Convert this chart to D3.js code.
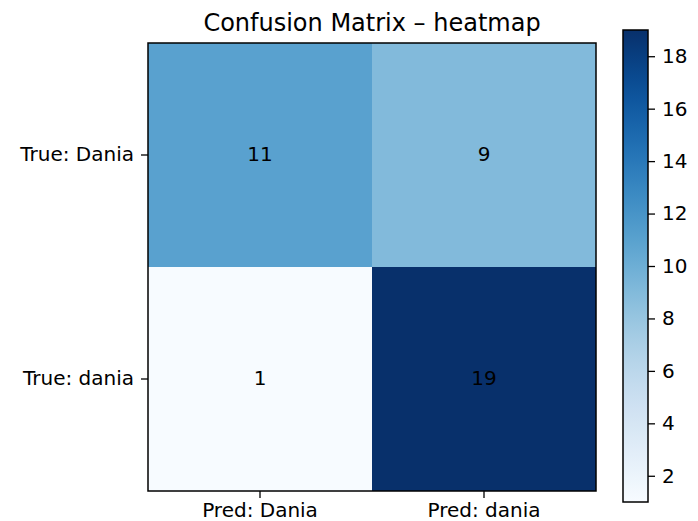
<!DOCTYPE html>
<html>
<head>
	<meta charset="utf-8">
	<title>Confusion Matrix - heatmap</title>
	<script src="https://cdn.jsdelivr.net/npm/d3@7"></script>
	<style type="text/css">
		body {
			margin: 0;
			padding: 0;
			background: #fff;
		}
		text {
			font-family: "DejaVu Sans", sans-serif;
			fill: #000;
		}
	</style>
</head>
<body>

<div id="chart"></div>

<script>

// data
var rowLabels = ["True: Dania", "True: dania"];
var colLabels = ["Pred: Dania", "Pred: dania"];
var counts = [
	[11, 9],
	[1, 19]
];
var colorbarTicks = [2, 4, 6, 8, 10, 12, 14, 16, 18];

var ww = 698,
	wh = 521;

var plot = {left: 148, top: 43, size: 448};
var cbar = {left: 623, top: 30, width: 25, bottom: 502};
var fs = "20px",
	tick = 7,
	pad = 7;

var flat = counts.reduce(function(a, b) { return a.concat(b); }, []);
var vmin = d3.min(flat),
	vmax = d3.max(flat);

var color = d3.scaleSequential(d3.interpolateBlues).domain([vmin, vmax]);

var x = d3.scaleBand().domain(colLabels).range([plot.left, plot.left + plot.size]);
var y = d3.scaleBand().domain(rowLabels).range([plot.top, plot.top + plot.size]);

var svg = d3.select("#chart").append("svg")
	.attr("width", ww)
	.attr("height", wh);

// cells
var cells = [];
counts.forEach(function(row, i) {
	row.forEach(function(v, j) {
		cells.push({row: rowLabels[i], col: colLabels[j], value: v});
	});
});

svg.selectAll("rect.cell")
	.data(cells)
	.enter().append("rect")
	.attr("class", "cell")
	.attr("x", function(d) { return x(d.col); })
	.attr("y", function(d) { return y(d.row); })
	.attr("width", x.bandwidth())
	.attr("height", y.bandwidth())
	.attr("fill", function(d) { return color(d.value); });

svg.selectAll("text.val")
	.data(cells)
	.enter().append("text")
	.attr("class", "val")
	.attr("x", function(d) { return x(d.col) + x.bandwidth() / 2; })
	.attr("y", function(d) { return y(d.row) + y.bandwidth() / 2; })
	.attr("dy", "0.3em")
	.attr("text-anchor", "middle")
	.style("font-size", fs)
	.text(function(d) { return d.value; });

// axes
var xAxis = svg.append("g")
	.attr("transform", "translate(0," + (plot.top + plot.size) + ")")
	.call(d3.axisBottom(x).tickSize(tick).tickPadding(5));
var yAxis = svg.append("g")
	.attr("transform", "translate(" + plot.left + ",0)")
	.call(d3.axisLeft(y).tickSize(tick).tickPadding(pad));

[xAxis, yAxis].forEach(function(g) {
	g.select(".domain").remove();
	g.selectAll("line").attr("stroke", "#000").attr("stroke-width", 1.3);
	g.selectAll("text").style("font-size", fs).style("font-family", "DejaVu Sans").attr("fill", "#000");
});

svg.append("rect")
	.attr("x", plot.left)
	.attr("y", plot.top)
	.attr("width", plot.size)
	.attr("height", plot.size)
	.attr("fill", "none")
	.attr("stroke", "#000")
	.attr("stroke-width", 1.5);

// title
svg.append("text")
	.attr("x", plot.left + plot.size / 2)
	.attr("y", 31)
	.attr("text-anchor", "middle")
	.style("font-size", "24px")
	.text("Confusion Matrix \u2013 heatmap");

// colorbar
var cy = d3.scaleLinear().domain([vmin, vmax]).range([cbar.bottom, cbar.top]);

var defs = svg.append("defs");
var grad = defs.append("linearGradient")
	.attr("id", "cbgrad")
	.attr("x1", 0).attr("y1", 1)
	.attr("x2", 0).attr("y2", 0);
d3.range(0, 1.0001, 0.05).forEach(function(t) {
	grad.append("stop")
		.attr("offset", t)
		.attr("stop-color", d3.interpolateBlues(t));
});

svg.append("rect")
	.attr("x", cbar.left)
	.attr("y", cbar.top)
	.attr("width", cbar.width)
	.attr("height", cbar.bottom - cbar.top)
	.attr("fill", "url(#cbgrad)")
	.attr("stroke", "#000")
	.attr("stroke-width", 1.5);

var cAxis = svg.append("g")
	.attr("transform", "translate(" + (cbar.left + cbar.width) + ",0)")
	.call(d3.axisRight(cy).tickValues(colorbarTicks).tickSize(tick).tickPadding(pad));
cAxis.select(".domain").remove();
cAxis.selectAll("line").attr("stroke", "#000").attr("stroke-width", 1.3);
cAxis.selectAll("text").style("font-size", fs).style("font-family", "DejaVu Sans").attr("fill", "#000");

</script>
</body>
</html>
